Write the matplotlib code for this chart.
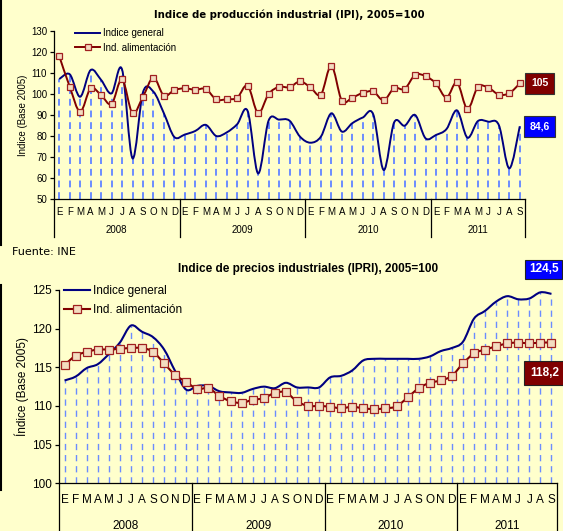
import matplotlib.pyplot as plt
import numpy as np
from matplotlib.path import Path
from matplotlib.patches import PathPatch
from matplotlib.lines import Line2D
import matplotlib.transforms as mtransforms

plt.rcParams['font.family'] = ['Liberation Sans', 'DejaVu Sans']

# --- data ---
months = ['E', 'F', 'M', 'A', 'M', 'J', 'J', 'A', 'S', 'O', 'N', 'D'] * 3 + \
         ['E', 'F', 'M', 'A', 'M', 'J', 'J', 'A', 'S']
years = ['2008', '2009', '2010', '2011']

ipi_general = [107.1, 109.4, 98.7, 111.4, 106.7, 100.3, 111.7, 69.4, 100.8, 101.1, 90.8, 79.5,
               80.7, 82.4, 85.3, 80.0, 81.7, 85.6, 91.9, 62.2, 87.3, 87.8, 87.3, 79.7,
               76.8, 79.7, 90.8, 82.1, 86.1, 88.8, 90.3, 63.8, 86.5, 84.9, 90.0, 78.9,
               80.5, 83.3, 92.2, 79.2, 87.1, 86.8, 85.2, 64.6, 84.6]
ipi_alim = [118.1, 103.5, 91.6, 102.7, 99.5, 95.2, 107.0, 90.8, 98.7, 107.8, 99.2, 101.9,
            102.7, 102.0, 102.4, 97.4, 97.5, 98.2, 104.0, 90.9, 100.0, 103.4, 103.2, 106.0,
            103.2, 99.7, 113.5, 96.8, 98.3, 100.5, 101.2, 97.0, 102.8, 102.4, 109.1, 108.5,
            105.0, 98.3, 105.5, 92.9, 103.4, 103.0, 99.7, 100.4, 105.0]

ipri_general = [113.3, 113.8, 114.9, 115.4, 116.7, 118.2, 120.4, 119.6, 118.9, 117.3, 114.5, 112.1,
                112.6, 112.6, 111.9, 111.75, 111.7, 112.2, 112.5, 112.3, 113.0, 112.4, 112.4, 112.4,
                113.7, 113.9, 114.6, 115.9, 116.1, 116.1, 116.1, 116.1, 116.1, 116.4, 117.1, 117.5,
                118.3, 121.3, 122.3, 123.5, 124.2, 123.8, 123.9, 124.7, 124.5]
ipri_alim = [115.3, 116.5, 117.0, 117.3, 117.3, 117.4, 117.5, 117.5, 117.0, 115.5, 114.0, 113.1,
             112.2, 112.3, 111.3, 110.6, 110.4, 110.8, 111.0, 111.7, 111.75, 110.6, 110.0, 110.0,
             109.9, 109.7, 109.9, 109.7, 109.6, 109.7, 109.95, 111.1, 112.3, 113.0, 113.3, 113.9,
             115.5, 116.8, 117.3, 117.7, 118.1, 118.2, 118.1, 118.2, 118.2]

BG = '#ffffcc'
NAVY = '#000080'
MAROON = '#800000'
DROP = '#6b8cff'


def smooth_path(x, y):
    # curva suavizada tipo Excel (bezier por los puntos)
    x = np.asarray(x, float)
    y = np.asarray(y, float)
    n = len(x)
    verts = [(x[0], y[0])]
    codes = [Path.MOVETO]
    for k in range(n - 1):
        a = k - 1 if k > 0 else k
        b = k + 2 if k + 2 < n else k + 1
        c1 = (x[k] + (x[k + 1] - x[a]) / 6, y[k] + (y[k + 1] - y[a]) / 6)
        c2 = (x[k + 1] - (x[b] - x[k]) / 6, y[k + 1] - (y[b] - y[k]) / 6)
        verts += [c1, c2, (x[k + 1], y[k + 1])]
        codes += [Path.CURVE4] * 3
    return Path(verts, codes)


def draw_chart(ax, gen, alim, ylim, ystep, p):
    x = np.arange(len(gen))
    ax.set_facecolor(BG)
    ax.set_xlim(-0.5, len(gen) - 0.5)
    ax.set_ylim(*ylim)
    for s in ['top', 'right']:
        ax.spines[s].set_visible(False)
    for s in ['left', 'bottom']:
        ax.spines[s].set_linewidth(0.9)

    ax.vlines(x, ylim[0], gen, colors=DROP, lw=p['drop_lw'],
              linestyles=(0, p['dash']), zorder=1)
    ax.add_patch(PathPatch(smooth_path(x, gen), fill=False, edgecolor=NAVY,
                           lw=p['lw'], zorder=3))
    ax.add_patch(PathPatch(smooth_path(x, alim), fill=False, edgecolor=MAROON,
                           lw=p['lw'], zorder=4))
    ax.plot(x, alim, ls='none', marker='s', ms=p['ms'], mfc='#f3dcc0',
            mec='#a02020', mew=0.9, zorder=5)

    ax.set_yticks(np.arange(ylim[0], ylim[1] + 0.1, ystep))
    ax.tick_params(axis='y', labelsize=p['yfs'], length=3, width=0.9, pad=2)
    ax.set_xticks([])

    # etiquetas de meses y años
    tr = mtransforms.blended_transform_factory(ax.transData, ax.transAxes)
    for i, m in enumerate(months):
        ax.annotate(m, (i, 0), xycoords=tr, xytext=(0, p['mon_off']),
                    textcoords='offset points', ha='center', va='center',
                    fontsize=p['mfs'], annotation_clip=False)
    seps = [-0.5, 11.5, 23.5, 35.5, len(gen) - 0.5]
    for sx in seps:
        ax.add_line(Line2D([sx, sx], [0, p['sep_len']], transform=tr, color='black',
                           lw=0.9, clip_on=False))
    for k, yr in enumerate(years):
        cx = (seps[k] + seps[k + 1]) / 2
        ax.annotate(yr, (cx, 0), xycoords=tr, xytext=(0, p['yr_off']),
                    textcoords='offset points', ha='center', va='center',
                    fontsize=p['mfs'], annotation_clip=False)

    handles = [Line2D([], [], color=NAVY, lw=p['lw']),
               Line2D([], [], color=MAROON, lw=p['lw'], marker='s', ms=p['ms'],
                      mfc='#f3dcc0', mec='#a02020', mew=0.9)]
    ax.legend(handles, ['Indice general', 'Ind. alimentación'], loc='upper left',
              bbox_to_anchor=p['leg_pos'], frameon=False, fontsize=p['lfs'],
              handlelength=p['hl'], handletextpad=0.25, labelspacing=p['ls'],
              borderpad=0, borderaxespad=0)


fig = plt.figure(figsize=(5.63, 5.31), dpi=100, facecolor=BG)

ax1 = fig.add_axes([54 / 563, 1 - 199 / 531, 471 / 563, 168 / 531])
draw_chart(ax1, ipi_general, ipi_alim, (50, 130), 10,
           dict(lw=1.4, drop_lw=1.4, dash=(3.5, 2.5), ms=5, yfs=7, mfs=7,
                mon_off=-9.4, yr_off=-22.3, sep_len=-38 / 168, lfs=7, hl=2.6,
                ls=0.45, leg_pos=(21 / 471, 1.015)))
ax1.set_ylabel('Indice (Base 2005)', fontsize=7, labelpad=2)
ax1.set_title('Indice de producción industrial (IPI), 2005=100', fontsize=7.3,
              fontweight='bold', family='DejaVu Sans', pad=9)
ax1.text(45.9, 105, '105', ha='center', va='center', color='white', fontsize=7.5,
         fontweight='bold', clip_on=False,
         bbox=dict(boxstyle='square,pad=0.55', fc=MAROON, ec='#333333', lw=0.8))
ax1.text(45.9, 84.6, '84,6', ha='center', va='center', color='white', fontsize=7.5,
         fontweight='bold', clip_on=False,
         bbox=dict(boxstyle='square,pad=0.5', fc='#0000ff', ec='#333333', lw=0.8))

ax2 = fig.add_axes([59 / 563, 1 - 483.3 / 531, 498 / 563, 193.3 / 531])
draw_chart(ax2, ipri_general, ipri_alim, (100, 125), 5,
           dict(lw=1.5, drop_lw=1.0, dash=(4.5, 3.5), ms=5.2, yfs=8.5, mfs=8.5,
                mon_off=-12.2, yr_off=-30.5, sep_len=-48 / 193.3, lfs=8.5, hl=2.2,
                ls=0.55, leg_pos=(5 / 498, 1.025)))
ax2.set_ylabel('Índice (Base 2005)', fontsize=8.5, labelpad=2)
ax2.set_title('Indice de precios industriales (IPRI), 2005=100', fontsize=8.5,
              fontweight='bold', pad=13)
ax2.text(43.3, 127.7, '124,5', ha='center', va='center', color='white', fontsize=8.5,
         fontweight='bold', clip_on=False,
         bbox=dict(boxstyle='square,pad=0.3', fc='#0000ff', ec='#222222', lw=0.8))
ax2.text(43.4, 114.3, '118,2', ha='center', va='center', color='white', fontsize=8.5,
         fontweight='bold', clip_on=False,
         bbox=dict(boxstyle='square,pad=0.5', fc=MAROON, ec='#222222', lw=0.8))

fig.text(12 / 563, 1 - 252 / 531, 'Fuente: INE', ha='left', va='center', fontsize=8,
         family='DejaVu Sans')

# borde negro a la izquierda
fig.add_artist(Line2D([0.001, 0.001], [1, 1 - 245 / 531], color='black', lw=1.5))
fig.add_artist(Line2D([0.001, 0.001], [1 - 285 / 531, 1 - 490 / 531], color='black', lw=1.5))

fig.savefig('out.png', dpi=100, facecolor=BG)
